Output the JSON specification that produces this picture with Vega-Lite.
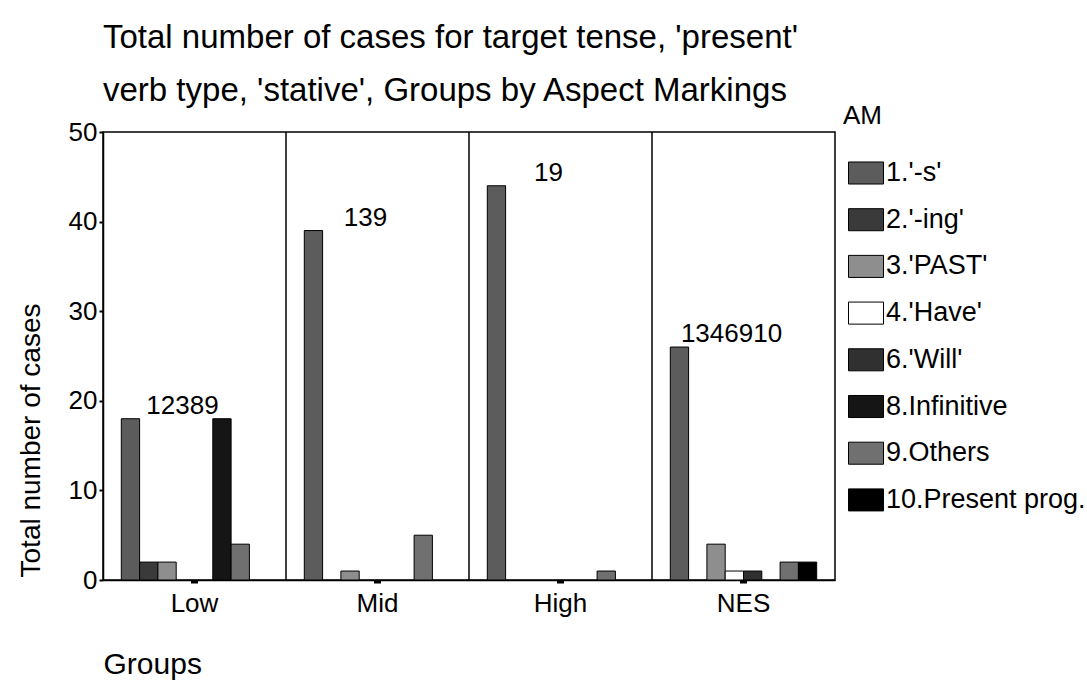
{
  "$schema": "https://vega.github.io/schema/vega-lite/v6.json",
  "width": 732,
  "height": 448,
  "autosize": {"type": "none"},
  "padding": {"left": 103, "top": 132, "right": 252, "bottom": 101},
  "background": "white",
  "config": {
    "font": "Liberation Sans",
    "view": {"stroke": "black", "strokeWidth": 1.5},
    "axis": {"grid": false, "domainColor": "black", "tickColor": "black", "labelColor": "black", "titleColor": "black", "titleFontWeight": "normal"}
  },
  "title": {
    "text": ["Total number of cases for target tense, 'present'", "verb type, 'stative', Groups by Aspect Markings"],
    "anchor": "start",
    "frame": "group",
    "fontSize": 33,
    "fontWeight": "normal",
    "lineHeight": 53,
    "color": "black",
    "offset": -5
  },
  "datasets": {
    "counts": [
      {"group": "Low", "AM": "1.'-s'", "count": 18},
      {"group": "Low", "AM": "2.'-ing'", "count": 2},
      {"group": "Low", "AM": "3.'PAST'", "count": 2},
      {"group": "Low", "AM": "8.Infinitive", "count": 18},
      {"group": "Low", "AM": "9.Others", "count": 4},
      {"group": "Mid", "AM": "1.'-s'", "count": 39},
      {"group": "Mid", "AM": "3.'PAST'", "count": 1},
      {"group": "Mid", "AM": "9.Others", "count": 5},
      {"group": "High", "AM": "1.'-s'", "count": 44},
      {"group": "High", "AM": "9.Others", "count": 1},
      {"group": "NES", "AM": "1.'-s'", "count": 26},
      {"group": "NES", "AM": "3.'PAST'", "count": 4},
      {"group": "NES", "AM": "4.'Have'", "count": 1},
      {"group": "NES", "AM": "6.'Will'", "count": 1},
      {"group": "NES", "AM": "9.Others", "count": 2},
      {"group": "NES", "AM": "10.Present prog.", "count": 2}
    ],
    "labels": [
      {"group": "Low", "label": "12389"},
      {"group": "Mid", "label": "139"},
      {"group": "High", "label": "19"},
      {"group": "NES", "label": "1346910"}
    ],
    "dividers": [
      {"group": "Mid"},
      {"group": "High"},
      {"group": "NES"}
    ]
  },
  "layer": [
    {
      "data": {"name": "counts"},
      "mark": {"type": "bar", "stroke": "black", "strokeWidth": 1},
      "encoding": {
        "x": {
          "field": "group", "type": "nominal",
          "scale": {"domain": ["Low", "Mid", "High", "NES"], "paddingInner": 0, "paddingOuter": 0},
          "axis": {
            "title": "Groups", "titleFontSize": 30, "titleX": 0, "titleY": 93, "titleAlign": "left", "titleAnchor": "start", "titleBaseline": "alphabetic",
            "labelFontSize": 26, "labelPadding": 7, "labelAngle": 0, "tickSize": 3, "tickWidth": 7, "domainWidth": 1.5
          }
        },
        "xOffset": {
          "field": "AM", "type": "nominal",
          "scale": {"domain": ["1.'-s'", "2.'-ing'", "3.'PAST'", "4.'Have'", "6.'Will'", "8.Infinitive", "9.Others", "10.Present prog."], "paddingInner": 0, "paddingOuter": 1.08}
        },
        "y": {
          "field": "count", "type": "quantitative",
          "scale": {"domain": [0, 50], "nice": false},
          "axis": {
            "values": [0, 10, 20, 30, 40, 50], "labelFontSize": 26, "tickSize": 4, "tickWidth": 2, "labelPadding": 2, "domainWidth": 1.5,
            "title": "Total number of cases", "titleFontSize": 28, "titleX": -64, "titleY": 308, "titleAlign": "center", "titleBaseline": "alphabetic", "titleAngle": -90
          }
        },
        "fill": {
          "field": "AM", "type": "nominal",
          "scale": {
            "domain": ["1.'-s'", "2.'-ing'", "3.'PAST'", "4.'Have'", "6.'Will'", "8.Infinitive", "9.Others", "10.Present prog."],
            "range": ["#5c5c5c", "#3a3a3a", "#8e8e8e", "#ffffff", "#303030", "#151515", "#707070", "#000000"]
          },
          "legend": {
            "title": "AM", "orient": "none", "legendX": 740, "legendY": -29, "padding": 0,
            "titleFontSize": 26, "titleFontWeight": "normal", "titleColor": "black", "titlePadding": 26,
            "labelFontSize": 27, "labelColor": "black", "labelLimit": 300, "labelOffset": 2,
            "symbolType": "M-1,-0.63H1V0.63H-1Z", "symbolSize": 1225, "symbolStrokeColor": "black", "symbolStrokeWidth": 1, "symbolOffset": 5, "symbolOpacity": 1,
            "rowPadding": 14.7
          }
        }
      }
    },
    {
      "data": {"name": "counts"},
      "transform": [
        {"filter": {"field": "AM", "equal": "1.'-s'"}},
        {"lookup": "group", "from": {"data": {"name": "labels"}, "key": "group", "fields": ["label"]}}
      ],
      "mark": {"type": "text", "fontSize": 26, "baseline": "alphabetic", "align": "center", "dx": -12, "dy": -5, "color": "black"},
      "encoding": {
        "x": {"field": "group", "type": "nominal"},
        "y": {"field": "count", "type": "quantitative"},
        "text": {"field": "label"}
      }
    },
    {
      "data": {"name": "dividers"},
      "mark": {"type": "rule", "color": "black", "strokeWidth": 1.5},
      "encoding": {
        "x": {"field": "group", "type": "nominal", "bandPosition": 0}
      }
    }
  ]
}
